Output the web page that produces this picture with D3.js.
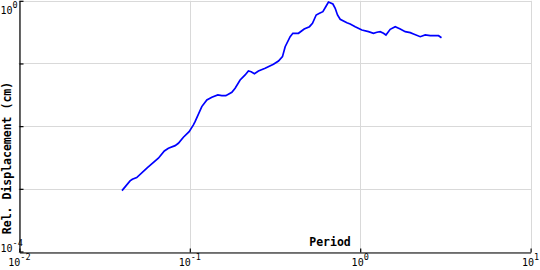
<!DOCTYPE html>
<html>
<head>
<meta charset="utf-8">
<script src="https://cdn.jsdelivr.net/npm/d3@7"></script>
<style>
  body { margin: 0; background: #fff; }
  svg { display: block; }
</style>
</head>
<body>
<svg id="chart" width="540" height="270"></svg>
<script>
// spectrum: period (s) vs relative displacement (cm)
var periods = [0.040, 0.0446, 0.046, 0.0488, 0.0564, 0.0654, 0.0709, 0.0749, 0.082, 0.0857,
    0.0917, 0.0991, 0.105, 0.1074, 0.1176, 0.1259, 0.1347, 0.146, 0.1541, 0.1627,
    0.1765, 0.1845, 0.1974, 0.2112, 0.2208, 0.2291, 0.2395, 0.2528, 0.2768, 0.3097,
    0.3314, 0.3498, 0.3628, 0.3881, 0.4025, 0.4342, 0.469, 0.5038, 0.5248, 0.5516,
    0.5768, 0.6039, 0.6315, 0.6514, 0.6914, 0.7133, 0.7358, 0.763, 0.8355, 0.8736,
    0.9347, 1.023, 1.119, 1.197, 1.253, 1.31, 1.37, 1.416, 1.50, 1.605,
    1.718, 1.838, 1.967, 2.056, 2.251, 2.408, 2.576, 2.883, 3.0];
var displacement = [0.000936, 0.001336, 0.001422, 0.00151, 0.00218, 0.00308, 0.00402, 0.00444, 0.00489, 0.00533,
    0.00665, 0.00817, 0.01045, 0.0118, 0.0205, 0.0262, 0.0289, 0.0315, 0.0306, 0.0306,
    0.0347, 0.0402, 0.0546, 0.0656, 0.0759, 0.0740, 0.0688, 0.0759, 0.0838, 0.0971,
    0.1096, 0.1284, 0.1853, 0.2676, 0.3031, 0.3031, 0.355, 0.3863, 0.4377, 0.5936,
    0.6318, 0.670, 0.826, 0.957, 0.889, 0.759, 0.594, 0.507, 0.447, 0.4266,
    0.386, 0.342, 0.3215, 0.3031, 0.3145, 0.3215, 0.3031, 0.2848, 0.351, 0.386,
    0.355, 0.3215, 0.31, 0.2954, 0.2676, 0.2848, 0.2776, 0.2776, 0.258];
var xTicks = [0.01, 0.1, 1, 10];
var xExps = ["-2", "-1", "0", "1"];
var yTicks = [1e-4, 1e-3, 1e-2, 1e-1, 1];
var yLabelled = [{v: 1, e: "0"}, {v: 1e-4, e: "-4"}];

(function() {
    var svg = d3.select('#chart');
    var pLeft = 18.5, pRight = 530.6, pTop = 0.8, pBottom = 251.5;

    var x = d3.scaleLog().domain([0.01, 10]).range([pLeft + 0.9, pRight]);
    var y = d3.scaleLog().domain([1e-4, 1]).range([pBottom, pTop]);

    var mono = '"DejaVu Sans Mono", monospace';

    // grid
    var grid = svg.append('g').attr('class', 'grid')
        .attr('stroke', '#d9d9d9').attr('stroke-width', 1);
    grid.selectAll('line.gx').data(xTicks).enter().append('line')
        .attr('x1', function(d) { return Math.round(x(d)) + 0.5 })
        .attr('x2', function(d) { return Math.round(x(d)) + 0.5 })
        .attr('y1', pTop).attr('y2', pBottom);
    grid.selectAll('line.gy').data(yTicks).enter().append('line')
        .attr('y1', function(d) { return Math.round(y(d)) + 0.5 })
        .attr('y2', function(d) { return Math.round(y(d)) + 0.5 })
        .attr('x1', pLeft).attr('x2', pRight + 1);

    // axes, ticks pointing inward
    var xAxis = d3.axisBottom(x).tickValues(xTicks).tickSizeInner(-4).tickSizeOuter(0).tickFormat('');
    var yAxis = d3.axisLeft(y).tickValues(yTicks).tickSizeInner(-4).tickSizeOuter(0).tickFormat('');

    svg.append('g').attr('transform', 'translate(0,' + (Math.round(pBottom) + 0.5) + ')').call(xAxis)
        .call(function(g) { g.selectAll('line, path').attr('stroke', '#000').attr('stroke-width', 1.2) });
    svg.append('g').attr('transform', 'translate(' + (Math.round(pLeft) + 0.5) + ',0)').call(yAxis)
        .call(function(g) { g.selectAll('line, path').attr('stroke', '#000').attr('stroke-width', 1.2) });

    // tick labels with superscript exponents
    var tl = svg.append('g').attr('font-family', mono).attr('fill', '#000');
    xTicks.forEach(function(v, i) {
        var t = tl.append('text').attr('x', x(v)).attr('y', 266).attr('text-anchor', 'middle')
            .attr('font-size', 10);
        t.append('tspan').text('10');
        t.append('tspan').attr('dy', -6).attr('font-size', 8.5).text(xExps[i]);
    });
    yLabelled.forEach(function(d) {
        var base = Math.max(y(d.v), 14);
        var t = tl.append('text').attr('x', 0.5).attr('y', base).attr('text-anchor', 'start')
            .attr('font-size', 10);
        t.append('tspan').text('10');
        t.append('tspan').attr('dy', -6).attr('font-size', 8.5).text(d.e);
    });

    // axis titles
    svg.append('text')
        .attr('x', 330).attr('y', 245.5)
        .attr('text-anchor', 'middle')
        .attr('font-family', mono).attr('font-weight', 'bold').attr('font-size', 11.5)
        .text('Period');
    svg.append('text')
        .attr('transform', 'translate(11,158) rotate(-90)')
        .attr('text-anchor', 'middle')
        .attr('font-family', mono).attr('font-weight', 'bold').attr('font-size', 11.5)
        .text('Rel. Displacement (cm)');

    // spectrum line
    var line = d3.line()
        .x(function(d) { return x(d[0]) })
        .y(function(d) { return y(d[1]) });
    svg.append('path')
        .datum(d3.zip(periods, displacement))
        .attr('fill', 'none')
        .attr('stroke', '#0000ff')
        .attr('stroke-width', 1.7)
        .attr('d', line);
})();
</script>
</body>
</html>
